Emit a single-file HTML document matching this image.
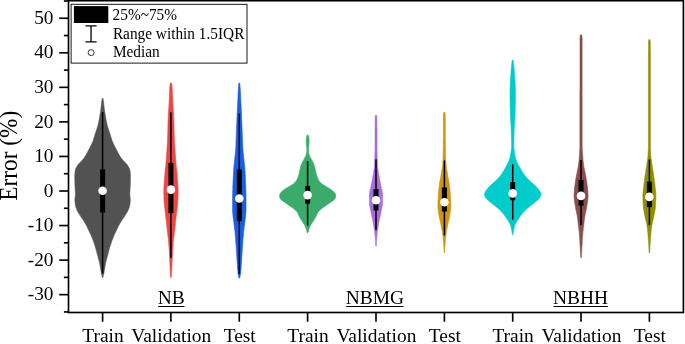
<!DOCTYPE html>
<html><head><meta charset="utf-8"><title>Error violin plot</title>
<style>html,body{margin:0;padding:0;background:#fff}svg{display:block}text{font-family:"Liberation Serif","Times New Roman",serif;fill:#000}</style></head><body>
<svg width="685" height="344" viewBox="0 0 685 344">
<rect width="685" height="344" fill="#fff"/>
<path d="M102.1,98.6 L102.0,99.6 L101.9,100.6 L101.7,101.6 L101.6,102.6 L101.5,103.6 L101.4,104.6 L101.3,105.6 L101.1,106.6 L101.0,107.6 L100.9,108.6 L100.8,109.6 L100.7,110.6 L100.5,111.6 L100.4,112.6 L100.2,113.6 L100.0,114.6 L99.9,115.6 L99.7,116.6 L99.5,117.6 L99.4,118.6 L99.2,119.6 L99.0,120.6 L98.8,121.6 L98.6,122.6 L98.4,123.6 L98.1,124.6 L97.9,125.6 L97.6,126.6 L97.3,127.6 L97.0,128.6 L96.7,129.6 L96.3,130.6 L96.0,131.6 L95.7,132.6 L95.3,133.6 L95.0,134.6 L94.7,135.6 L94.4,136.6 L94.1,137.6 L93.8,138.6 L93.5,139.6 L93.2,140.6 L92.8,141.6 L92.3,142.6 L91.9,143.6 L91.4,144.6 L90.9,145.6 L90.4,146.6 L89.9,147.6 L89.4,148.6 L88.9,149.6 L88.3,150.6 L87.8,151.6 L87.3,152.6 L86.8,153.6 L86.2,154.6 L85.6,155.6 L85.0,156.6 L84.3,157.6 L83.6,158.6 L82.8,159.6 L82.0,160.6 L81.0,161.6 L80.0,162.6 L79.1,163.6 L78.2,164.6 L77.5,165.6 L76.9,166.6 L76.3,167.6 L75.8,168.6 L75.5,169.6 L75.3,170.6 L75.1,171.6 L75.0,172.6 L74.9,173.6 L74.8,174.6 L74.8,175.6 L74.8,176.6 L74.8,177.6 L74.8,178.6 L74.8,179.6 L74.8,180.6 L74.8,181.6 L74.9,182.6 L74.9,183.6 L74.9,184.6 L75.0,185.6 L75.0,186.6 L75.1,187.6 L75.1,188.6 L75.2,189.6 L75.2,190.6 L75.3,191.6 L75.4,192.6 L75.4,193.6 L75.4,194.6 L75.3,195.6 L75.2,196.6 L75.1,197.6 L75.0,198.6 L74.9,199.6 L74.9,200.6 L75.0,201.6 L75.1,202.6 L75.2,203.6 L75.3,204.6 L75.5,205.6 L75.7,206.6 L76.0,207.6 L76.4,208.6 L76.8,209.6 L77.2,210.6 L77.7,211.6 L78.3,212.6 L78.9,213.6 L79.6,214.6 L80.2,215.6 L80.8,216.6 L81.5,217.6 L82.2,218.6 L82.9,219.6 L83.5,220.6 L84.1,221.6 L84.8,222.6 L85.3,223.6 L85.9,224.6 L86.5,225.6 L87.0,226.6 L87.4,227.6 L87.9,228.6 L88.4,229.6 L88.8,230.6 L89.3,231.6 L89.8,232.6 L90.3,233.6 L90.8,234.6 L91.2,235.6 L91.6,236.6 L92.0,237.6 L92.4,238.6 L92.8,239.6 L93.2,240.6 L93.6,241.6 L93.9,242.6 L94.2,243.6 L94.6,244.6 L94.9,245.6 L95.2,246.6 L95.5,247.6 L95.8,248.6 L96.1,249.6 L96.4,250.6 L96.6,251.6 L96.9,252.6 L97.1,253.6 L97.4,254.6 L97.6,255.6 L97.9,256.6 L98.2,257.6 L98.4,258.6 L98.7,259.6 L99.0,260.6 L99.2,261.6 L99.5,262.6 L99.7,263.6 L99.9,264.6 L100.1,265.6 L100.2,266.6 L100.4,267.6 L100.5,268.6 L100.7,269.6 L100.9,270.6 L101.1,271.6 L101.2,272.6 L101.4,273.6 L101.7,274.6 L101.9,275.6 L102.1,276.6 L102.3,277.5 L102.9,277.5 L103.1,276.6 L103.3,275.6 L103.5,274.6 L103.8,273.6 L104.0,272.6 L104.1,271.6 L104.3,270.6 L104.5,269.6 L104.7,268.6 L104.8,267.6 L105.0,266.6 L105.1,265.6 L105.3,264.6 L105.5,263.6 L105.7,262.6 L106.0,261.6 L106.2,260.6 L106.5,259.6 L106.8,258.6 L107.0,257.6 L107.3,256.6 L107.6,255.6 L107.8,254.6 L108.1,253.6 L108.3,252.6 L108.6,251.6 L108.8,250.6 L109.1,249.6 L109.4,248.6 L109.7,247.6 L110.0,246.6 L110.3,245.6 L110.6,244.6 L111.0,243.6 L111.3,242.6 L111.6,241.6 L112.0,240.6 L112.4,239.6 L112.8,238.6 L113.2,237.6 L113.6,236.6 L114.0,235.6 L114.4,234.6 L114.9,233.6 L115.4,232.6 L115.9,231.6 L116.4,230.6 L116.8,229.6 L117.3,228.6 L117.8,227.6 L118.2,226.6 L118.7,225.6 L119.3,224.6 L119.9,223.6 L120.4,222.6 L121.1,221.6 L121.7,220.6 L122.3,219.6 L123.0,218.6 L123.7,217.6 L124.4,216.6 L125.0,215.6 L125.6,214.6 L126.3,213.6 L126.9,212.6 L127.5,211.6 L128.0,210.6 L128.4,209.6 L128.8,208.6 L129.2,207.6 L129.5,206.6 L129.7,205.6 L129.9,204.6 L130.0,203.6 L130.1,202.6 L130.2,201.6 L130.3,200.6 L130.3,199.6 L130.2,198.6 L130.1,197.6 L130.0,196.6 L129.9,195.6 L129.8,194.6 L129.8,193.6 L129.8,192.6 L129.9,191.6 L130.0,190.6 L130.0,189.6 L130.1,188.6 L130.1,187.6 L130.2,186.6 L130.2,185.6 L130.3,184.6 L130.3,183.6 L130.3,182.6 L130.4,181.6 L130.4,180.6 L130.4,179.6 L130.4,178.6 L130.4,177.6 L130.4,176.6 L130.4,175.6 L130.4,174.6 L130.3,173.6 L130.2,172.6 L130.1,171.6 L129.9,170.6 L129.7,169.6 L129.4,168.6 L128.9,167.6 L128.3,166.6 L127.7,165.6 L127.0,164.6 L126.1,163.6 L125.2,162.6 L124.2,161.6 L123.2,160.6 L122.4,159.6 L121.6,158.6 L120.9,157.6 L120.2,156.6 L119.6,155.6 L119.0,154.6 L118.4,153.6 L117.9,152.6 L117.4,151.6 L116.9,150.6 L116.3,149.6 L115.8,148.6 L115.3,147.6 L114.8,146.6 L114.3,145.6 L113.8,144.6 L113.3,143.6 L112.9,142.6 L112.4,141.6 L112.0,140.6 L111.7,139.6 L111.4,138.6 L111.1,137.6 L110.8,136.6 L110.5,135.6 L110.2,134.6 L109.9,133.6 L109.5,132.6 L109.2,131.6 L108.9,130.6 L108.5,129.6 L108.2,128.6 L107.9,127.6 L107.6,126.6 L107.3,125.6 L107.1,124.6 L106.8,123.6 L106.6,122.6 L106.4,121.6 L106.2,120.6 L106.0,119.6 L105.8,118.6 L105.7,117.6 L105.5,116.6 L105.3,115.6 L105.2,114.6 L105.0,113.6 L104.8,112.6 L104.7,111.6 L104.5,110.6 L104.4,109.6 L104.3,108.6 L104.2,107.6 L104.1,106.6 L103.9,105.6 L103.8,104.6 L103.7,103.6 L103.6,102.6 L103.5,101.6 L103.3,100.6 L103.2,99.6 L103.1,98.6Z" fill="#525252" stroke="#525252" stroke-width="0.6" stroke-linejoin="round"/>
<line x1="102.6" x2="102.6" y1="112" y2="273.5" stroke="#000" stroke-width="1.5"/>
<rect x="100.1" y="169.3" width="5.0" height="43.2" fill="#000"/>
<circle cx="102.6" cy="190.7" r="4.3" fill="#fff"/>
<path d="M170.4,82.9 L170.2,83.9 L170.0,84.9 L169.9,85.9 L169.8,86.9 L169.7,87.9 L169.7,88.9 L169.7,89.9 L169.6,90.9 L169.6,91.9 L169.5,92.9 L169.5,93.9 L169.5,94.9 L169.4,95.9 L169.4,96.9 L169.3,97.9 L169.3,98.9 L169.2,99.9 L169.2,100.9 L169.1,101.9 L169.1,102.9 L169.0,103.9 L169.0,104.9 L168.9,105.9 L168.9,106.9 L168.8,107.9 L168.7,108.9 L168.7,109.9 L168.6,110.9 L168.5,111.9 L168.5,112.9 L168.4,113.9 L168.3,114.9 L168.3,115.9 L168.2,116.9 L168.2,117.9 L168.1,118.9 L168.1,119.9 L168.0,120.9 L168.0,121.9 L168.0,122.9 L168.0,123.9 L167.9,124.9 L167.9,125.9 L167.9,126.9 L167.9,127.9 L167.9,128.9 L167.9,129.9 L167.8,130.9 L167.8,131.9 L167.8,132.9 L167.8,133.9 L167.7,134.9 L167.7,135.9 L167.6,136.9 L167.6,137.9 L167.6,138.9 L167.5,139.9 L167.5,140.9 L167.4,141.9 L167.4,142.9 L167.3,143.9 L167.3,144.9 L167.2,145.9 L167.1,146.9 L167.1,147.9 L167.0,148.9 L166.9,149.9 L166.9,150.9 L166.8,151.9 L166.7,152.9 L166.7,153.9 L166.6,154.9 L166.5,155.9 L166.4,156.9 L166.4,157.9 L166.3,158.9 L166.2,159.9 L166.1,160.9 L166.0,161.9 L165.9,162.9 L165.9,163.9 L165.8,164.9 L165.7,165.9 L165.6,166.9 L165.5,167.9 L165.3,168.9 L165.2,169.9 L165.1,170.9 L165.0,171.9 L165.0,172.9 L164.9,173.9 L164.8,174.9 L164.7,175.9 L164.7,176.9 L164.6,177.9 L164.5,178.9 L164.4,179.9 L164.4,180.9 L164.3,181.9 L164.2,182.9 L164.1,183.9 L164.0,184.9 L164.0,185.9 L163.9,186.9 L163.8,187.9 L163.8,188.9 L163.8,189.9 L163.8,190.9 L163.8,191.9 L163.8,192.9 L163.8,193.9 L163.8,194.9 L163.9,195.9 L163.9,196.9 L163.9,197.9 L164.0,198.9 L164.0,199.9 L164.1,200.9 L164.1,201.9 L164.2,202.9 L164.3,203.9 L164.4,204.9 L164.5,205.9 L164.6,206.9 L164.8,207.9 L164.9,208.9 L165.0,209.9 L165.1,210.9 L165.2,211.9 L165.3,212.9 L165.4,213.9 L165.6,214.9 L165.7,215.9 L165.8,216.9 L165.9,217.9 L166.0,218.9 L166.2,219.9 L166.3,220.9 L166.4,221.9 L166.5,222.9 L166.6,223.9 L166.7,224.9 L166.8,225.9 L166.9,226.9 L167.0,227.9 L167.1,228.9 L167.2,229.9 L167.3,230.9 L167.5,231.9 L167.6,232.9 L167.7,233.9 L167.8,234.9 L167.9,235.9 L168.1,236.9 L168.2,237.9 L168.3,238.9 L168.4,239.9 L168.5,240.9 L168.6,241.9 L168.7,242.9 L168.8,243.9 L168.8,244.9 L168.9,245.9 L169.0,246.9 L169.1,247.9 L169.1,248.9 L169.2,249.9 L169.3,250.9 L169.3,251.9 L169.4,252.9 L169.4,253.9 L169.5,254.9 L169.5,255.9 L169.6,256.9 L169.6,257.9 L169.7,258.9 L169.7,259.9 L169.8,260.9 L169.8,261.9 L169.9,262.9 L169.9,263.9 L169.9,264.9 L170.0,265.9 L170.0,266.9 L170.1,267.9 L170.1,268.9 L170.1,269.9 L170.2,270.9 L170.3,271.9 L170.3,272.9 L170.4,273.9 L170.5,274.9 L170.5,275.9 L170.6,276.9 L170.6,277.6 L171.2,277.6 L171.3,276.9 L171.4,275.9 L171.4,274.9 L171.5,273.9 L171.6,272.9 L171.6,271.9 L171.7,270.9 L171.8,269.9 L171.8,268.9 L171.8,267.9 L171.9,266.9 L171.9,265.9 L172.0,264.9 L172.0,263.9 L172.0,262.9 L172.1,261.9 L172.1,260.9 L172.2,259.9 L172.2,258.9 L172.3,257.9 L172.3,256.9 L172.4,255.9 L172.4,254.9 L172.5,253.9 L172.5,252.9 L172.6,251.9 L172.6,250.9 L172.7,249.9 L172.8,248.9 L172.8,247.9 L172.9,246.9 L173.0,245.9 L173.1,244.9 L173.1,243.9 L173.2,242.9 L173.3,241.9 L173.4,240.9 L173.5,239.9 L173.6,238.9 L173.7,237.9 L173.8,236.9 L174.0,235.9 L174.1,234.9 L174.2,233.9 L174.3,232.9 L174.4,231.9 L174.5,230.9 L174.7,229.9 L174.8,228.9 L174.9,227.9 L175.0,226.9 L175.1,225.9 L175.2,224.9 L175.3,223.9 L175.4,222.9 L175.5,221.9 L175.6,220.9 L175.7,219.9 L175.9,218.9 L176.0,217.9 L176.1,216.9 L176.2,215.9 L176.3,214.9 L176.5,213.9 L176.6,212.9 L176.7,211.9 L176.8,210.9 L176.9,209.9 L177.0,208.9 L177.1,207.9 L177.3,206.9 L177.4,205.9 L177.5,204.9 L177.6,203.9 L177.7,202.9 L177.8,201.9 L177.8,200.9 L177.9,199.9 L177.9,198.9 L178.0,197.9 L178.0,196.9 L178.0,195.9 L178.1,194.9 L178.1,193.9 L178.1,192.9 L178.1,191.9 L178.1,190.9 L178.1,189.9 L178.1,188.9 L178.1,187.9 L178.0,186.9 L177.9,185.9 L177.9,184.9 L177.8,183.9 L177.7,182.9 L177.6,181.9 L177.5,180.9 L177.5,179.9 L177.4,178.9 L177.3,177.9 L177.2,176.9 L177.2,175.9 L177.1,174.9 L177.0,173.9 L176.9,172.9 L176.9,171.9 L176.8,170.9 L176.7,169.9 L176.6,168.9 L176.4,167.9 L176.3,166.9 L176.2,165.9 L176.1,164.9 L176.0,163.9 L175.9,162.9 L175.9,161.9 L175.8,160.9 L175.7,159.9 L175.6,158.9 L175.5,157.9 L175.5,156.9 L175.4,155.9 L175.3,154.9 L175.2,153.9 L175.2,152.9 L175.1,151.9 L175.0,150.9 L175.0,149.9 L174.9,148.9 L174.8,147.9 L174.8,146.9 L174.7,145.9 L174.6,144.9 L174.6,143.9 L174.5,142.9 L174.5,141.9 L174.4,140.9 L174.4,139.9 L174.3,138.9 L174.3,137.9 L174.3,136.9 L174.2,135.9 L174.2,134.9 L174.1,133.9 L174.1,132.9 L174.1,131.9 L174.1,130.9 L174.0,129.9 L174.0,128.9 L174.0,127.9 L174.0,126.9 L174.0,125.9 L174.0,124.9 L173.9,123.9 L173.9,122.9 L173.9,121.9 L173.9,120.9 L173.8,119.9 L173.8,118.9 L173.7,117.9 L173.7,116.9 L173.6,115.9 L173.6,114.9 L173.5,113.9 L173.4,112.9 L173.4,111.9 L173.3,110.9 L173.2,109.9 L173.2,108.9 L173.1,107.9 L173.0,106.9 L173.0,105.9 L172.9,104.9 L172.9,103.9 L172.8,102.9 L172.8,101.9 L172.7,100.9 L172.7,99.9 L172.6,98.9 L172.6,97.9 L172.5,96.9 L172.5,95.9 L172.4,94.9 L172.4,93.9 L172.4,92.9 L172.3,91.9 L172.3,90.9 L172.2,89.9 L172.2,88.9 L172.2,87.9 L172.1,86.9 L172.0,85.9 L171.9,84.9 L171.7,83.9 L171.4,82.9Z" fill="#ee4444" stroke="#ee4444" stroke-width="0.6" stroke-linejoin="round"/>
<line x1="170.9" x2="170.9" y1="112.2" y2="258" stroke="#000" stroke-width="1.5"/>
<rect x="168.4" y="162.9" width="5.0" height="50.3" fill="#000"/>
<circle cx="170.9" cy="189.6" r="4.3" fill="#fff"/>
<path d="M238.9,83.0 L238.8,84.0 L238.7,85.0 L238.6,86.0 L238.5,87.0 L238.5,88.0 L238.4,89.0 L238.3,90.0 L238.3,91.0 L238.2,92.0 L238.1,93.0 L238.1,94.0 L238.0,95.0 L238.0,96.0 L238.0,97.0 L237.9,98.0 L237.9,99.0 L237.8,100.0 L237.8,101.0 L237.7,102.0 L237.7,103.0 L237.6,104.0 L237.6,105.0 L237.5,106.0 L237.5,107.0 L237.4,108.0 L237.4,109.0 L237.3,110.0 L237.3,111.0 L237.2,112.0 L237.2,113.0 L237.1,114.0 L237.1,115.0 L237.1,116.0 L237.0,117.0 L237.0,118.0 L236.9,119.0 L236.9,120.0 L236.8,121.0 L236.8,122.0 L236.8,123.0 L236.7,124.0 L236.7,125.0 L236.6,126.0 L236.6,127.0 L236.6,128.0 L236.5,129.0 L236.5,130.0 L236.4,131.0 L236.4,132.0 L236.4,133.0 L236.3,134.0 L236.3,135.0 L236.3,136.0 L236.2,137.0 L236.2,138.0 L236.1,139.0 L236.1,140.0 L236.0,141.0 L236.0,142.0 L236.0,143.0 L235.9,144.0 L235.9,145.0 L235.9,146.0 L235.8,147.0 L235.8,148.0 L235.7,149.0 L235.6,150.0 L235.6,151.0 L235.5,152.0 L235.4,153.0 L235.3,154.0 L235.1,155.0 L235.0,156.0 L234.9,157.0 L234.8,158.0 L234.7,159.0 L234.6,160.0 L234.5,161.0 L234.4,162.0 L234.3,163.0 L234.2,164.0 L234.1,165.0 L234.0,166.0 L233.9,167.0 L233.8,168.0 L233.7,169.0 L233.7,170.0 L233.6,171.0 L233.5,172.0 L233.5,173.0 L233.4,174.0 L233.4,175.0 L233.3,176.0 L233.3,177.0 L233.2,178.0 L233.2,179.0 L233.1,180.0 L233.1,181.0 L233.0,182.0 L233.0,183.0 L233.0,184.0 L232.9,185.0 L232.9,186.0 L232.8,187.0 L232.8,188.0 L232.8,189.0 L232.8,190.0 L232.7,191.0 L232.7,192.0 L232.7,193.0 L232.7,194.0 L232.6,195.0 L232.6,196.0 L232.6,197.0 L232.6,198.0 L232.6,199.0 L232.6,200.0 L232.6,201.0 L232.6,202.0 L232.6,203.0 L232.6,204.0 L232.6,205.0 L232.6,206.0 L232.6,207.0 L232.6,208.0 L232.6,209.0 L232.6,210.0 L232.6,211.0 L232.7,212.0 L232.8,213.0 L232.8,214.0 L232.9,215.0 L233.0,216.0 L233.1,217.0 L233.2,218.0 L233.4,219.0 L233.5,220.0 L233.6,221.0 L233.8,222.0 L233.9,223.0 L234.0,224.0 L234.1,225.0 L234.3,226.0 L234.4,227.0 L234.5,228.0 L234.6,229.0 L234.8,230.0 L234.9,231.0 L235.0,232.0 L235.1,233.0 L235.2,234.0 L235.2,235.0 L235.3,236.0 L235.4,237.0 L235.5,238.0 L235.6,239.0 L235.7,240.0 L235.7,241.0 L235.8,242.0 L235.9,243.0 L236.0,244.0 L236.0,245.0 L236.1,246.0 L236.2,247.0 L236.2,248.0 L236.3,249.0 L236.4,250.0 L236.4,251.0 L236.5,252.0 L236.6,253.0 L236.6,254.0 L236.7,255.0 L236.8,256.0 L236.8,257.0 L236.9,258.0 L236.9,259.0 L237.0,260.0 L237.1,261.0 L237.1,262.0 L237.2,263.0 L237.3,264.0 L237.3,265.0 L237.4,266.0 L237.5,267.0 L237.5,268.0 L237.6,269.0 L237.7,270.0 L237.8,271.0 L237.9,272.0 L238.0,273.0 L238.1,274.0 L238.3,275.0 L238.5,276.0 L238.7,277.0 L238.9,278.0 L238.9,278.1 L239.7,278.1 L239.7,278.0 L239.9,277.0 L240.1,276.0 L240.3,275.0 L240.5,274.0 L240.6,273.0 L240.7,272.0 L240.8,271.0 L240.9,270.0 L241.0,269.0 L241.1,268.0 L241.1,267.0 L241.2,266.0 L241.3,265.0 L241.3,264.0 L241.4,263.0 L241.5,262.0 L241.5,261.0 L241.6,260.0 L241.7,259.0 L241.7,258.0 L241.8,257.0 L241.8,256.0 L241.9,255.0 L242.0,254.0 L242.0,253.0 L242.1,252.0 L242.2,251.0 L242.2,250.0 L242.3,249.0 L242.4,248.0 L242.4,247.0 L242.5,246.0 L242.6,245.0 L242.6,244.0 L242.7,243.0 L242.8,242.0 L242.9,241.0 L242.9,240.0 L243.0,239.0 L243.1,238.0 L243.2,237.0 L243.3,236.0 L243.4,235.0 L243.4,234.0 L243.5,233.0 L243.6,232.0 L243.7,231.0 L243.8,230.0 L244.0,229.0 L244.1,228.0 L244.2,227.0 L244.3,226.0 L244.5,225.0 L244.6,224.0 L244.7,223.0 L244.8,222.0 L245.0,221.0 L245.1,220.0 L245.2,219.0 L245.4,218.0 L245.5,217.0 L245.6,216.0 L245.7,215.0 L245.8,214.0 L245.8,213.0 L245.9,212.0 L246.0,211.0 L246.0,210.0 L246.0,209.0 L246.0,208.0 L246.0,207.0 L246.0,206.0 L246.0,205.0 L246.0,204.0 L246.0,203.0 L246.0,202.0 L246.0,201.0 L246.0,200.0 L246.0,199.0 L246.0,198.0 L246.0,197.0 L246.0,196.0 L246.0,195.0 L245.9,194.0 L245.9,193.0 L245.9,192.0 L245.9,191.0 L245.8,190.0 L245.8,189.0 L245.8,188.0 L245.8,187.0 L245.7,186.0 L245.7,185.0 L245.6,184.0 L245.6,183.0 L245.6,182.0 L245.5,181.0 L245.5,180.0 L245.4,179.0 L245.4,178.0 L245.3,177.0 L245.3,176.0 L245.2,175.0 L245.2,174.0 L245.1,173.0 L245.1,172.0 L245.0,171.0 L244.9,170.0 L244.9,169.0 L244.8,168.0 L244.7,167.0 L244.6,166.0 L244.5,165.0 L244.4,164.0 L244.3,163.0 L244.2,162.0 L244.1,161.0 L244.0,160.0 L243.9,159.0 L243.8,158.0 L243.7,157.0 L243.6,156.0 L243.5,155.0 L243.3,154.0 L243.2,153.0 L243.1,152.0 L243.0,151.0 L243.0,150.0 L242.9,149.0 L242.8,148.0 L242.8,147.0 L242.7,146.0 L242.7,145.0 L242.7,144.0 L242.6,143.0 L242.6,142.0 L242.5,141.0 L242.5,140.0 L242.5,139.0 L242.4,138.0 L242.4,137.0 L242.3,136.0 L242.3,135.0 L242.3,134.0 L242.2,133.0 L242.2,132.0 L242.2,131.0 L242.1,130.0 L242.1,129.0 L242.0,128.0 L242.0,127.0 L242.0,126.0 L241.9,125.0 L241.9,124.0 L241.8,123.0 L241.8,122.0 L241.8,121.0 L241.7,120.0 L241.7,119.0 L241.6,118.0 L241.6,117.0 L241.5,116.0 L241.5,115.0 L241.5,114.0 L241.4,113.0 L241.4,112.0 L241.3,111.0 L241.3,110.0 L241.2,109.0 L241.2,108.0 L241.1,107.0 L241.1,106.0 L241.0,105.0 L241.0,104.0 L240.9,103.0 L240.9,102.0 L240.8,101.0 L240.8,100.0 L240.7,99.0 L240.7,98.0 L240.6,97.0 L240.6,96.0 L240.6,95.0 L240.5,94.0 L240.5,93.0 L240.4,92.0 L240.3,91.0 L240.3,90.0 L240.2,89.0 L240.1,88.0 L240.1,87.0 L240.0,86.0 L239.9,85.0 L239.8,84.0 L239.7,83.0Z" fill="#1a5fe0" stroke="#1a5fe0" stroke-width="0.6" stroke-linejoin="round"/>
<line x1="239.3" x2="239.3" y1="113.6" y2="274" stroke="#000" stroke-width="1.5"/>
<rect x="236.8" y="169.4" width="5.0" height="51.8" fill="#000"/>
<circle cx="239.3" cy="198.5" r="4.3" fill="#fff"/>
<path d="M307.2,134.9 L306.9,135.9 L306.6,136.9 L306.4,137.9 L306.3,138.9 L306.2,139.9 L306.2,140.9 L306.2,141.9 L306.2,142.9 L306.3,143.9 L306.4,144.9 L306.6,145.9 L306.7,146.9 L306.8,147.9 L306.8,148.9 L306.8,149.9 L306.8,150.9 L306.8,151.9 L306.7,152.9 L306.4,153.9 L306.1,154.9 L305.7,155.9 L305.2,156.9 L304.7,157.9 L304.2,158.9 L303.6,159.9 L303.1,160.9 L302.5,161.9 L302.0,162.9 L301.6,163.9 L301.2,164.9 L300.8,165.9 L300.5,166.9 L300.3,167.9 L300.1,168.9 L299.9,169.9 L299.7,170.9 L299.5,171.9 L299.2,172.9 L299.0,173.9 L298.7,174.9 L298.4,175.9 L298.1,176.9 L297.7,177.9 L297.3,178.9 L296.8,179.9 L296.2,180.9 L295.4,181.9 L294.5,182.9 L293.3,183.9 L291.8,184.9 L290.1,185.9 L288.5,186.9 L286.8,187.9 L285.1,188.9 L283.7,189.9 L282.4,190.9 L281.4,191.9 L280.5,192.9 L279.9,193.9 L279.6,194.9 L279.6,195.9 L279.7,196.9 L279.9,197.9 L280.5,198.9 L281.4,199.9 L282.6,200.9 L284.2,201.9 L285.6,202.9 L287.1,203.9 L288.5,204.9 L290.0,205.9 L291.4,206.9 L292.8,207.9 L294.0,208.9 L295.2,209.9 L296.3,210.9 L297.2,211.9 L297.8,212.9 L298.2,213.9 L298.6,214.9 L299.1,215.9 L299.6,216.9 L300.1,217.9 L300.6,218.9 L301.3,219.9 L302.0,220.9 L302.6,221.9 L303.3,222.9 L303.9,223.9 L304.5,224.9 L305.0,225.9 L305.5,226.9 L305.9,227.9 L306.2,228.9 L306.5,229.9 L306.8,230.9 L307.1,231.9 L307.3,232.8 L307.9,232.8 L308.2,231.9 L308.5,230.9 L308.8,229.9 L309.1,228.9 L309.4,227.9 L309.8,226.9 L310.3,225.9 L310.8,224.9 L311.4,223.9 L312.0,222.9 L312.7,221.9 L313.3,220.9 L314.0,219.9 L314.7,218.9 L315.2,217.9 L315.7,216.9 L316.2,215.9 L316.7,214.9 L317.1,213.9 L317.5,212.9 L318.1,211.9 L319.0,210.9 L320.1,209.9 L321.3,208.9 L322.5,207.9 L323.9,206.9 L325.3,205.9 L326.8,204.9 L328.2,203.9 L329.7,202.9 L331.1,201.9 L332.7,200.9 L333.9,199.9 L334.8,198.9 L335.4,197.9 L335.6,196.9 L335.7,195.9 L335.7,194.9 L335.4,193.9 L334.8,192.9 L333.9,191.9 L332.9,190.9 L331.6,189.9 L330.2,188.9 L328.5,187.9 L326.8,186.9 L325.2,185.9 L323.5,184.9 L322.0,183.9 L320.8,182.9 L319.9,181.9 L319.1,180.9 L318.5,179.9 L318.0,178.9 L317.6,177.9 L317.2,176.9 L316.9,175.9 L316.6,174.9 L316.3,173.9 L316.1,172.9 L315.8,171.9 L315.6,170.9 L315.4,169.9 L315.2,168.9 L315.0,167.9 L314.8,166.9 L314.5,165.9 L314.1,164.9 L313.7,163.9 L313.3,162.9 L312.8,161.9 L312.2,160.9 L311.7,159.9 L311.1,158.9 L310.6,157.9 L310.1,156.9 L309.6,155.9 L309.2,154.9 L308.9,153.9 L308.6,152.9 L308.5,151.9 L308.5,150.9 L308.5,149.9 L308.5,148.9 L308.5,147.9 L308.6,146.9 L308.7,145.9 L308.9,144.9 L309.0,143.9 L309.1,142.9 L309.1,141.9 L309.1,140.9 L309.1,139.9 L309.0,138.9 L308.9,137.9 L308.7,136.9 L308.4,135.9 L308.0,134.9Z" fill="#3aab6a" stroke="#3aab6a" stroke-width="0.6" stroke-linejoin="round"/>
<line x1="307.6" x2="307.6" y1="161.1" y2="225.6" stroke="#000" stroke-width="1.5"/>
<rect x="305.1" y="185.9" width="5.0" height="17.8" fill="#000"/>
<circle cx="307.6" cy="195.1" r="4.3" fill="#fff"/>
<path d="M375.4,115.3 L375.3,116.3 L375.1,117.3 L375.1,118.3 L375.1,119.3 L375.1,120.3 L375.1,121.3 L375.1,122.3 L375.1,123.3 L375.1,124.3 L375.1,125.3 L375.1,126.3 L375.1,127.3 L375.0,128.3 L375.0,129.3 L375.0,130.3 L375.0,131.3 L375.0,132.3 L375.0,133.3 L375.0,134.3 L375.0,135.3 L375.0,136.3 L375.0,137.3 L375.0,138.3 L375.0,139.3 L375.0,140.3 L375.0,141.3 L375.0,142.3 L375.0,143.3 L375.0,144.3 L375.0,145.3 L375.0,146.3 L375.0,147.3 L375.0,148.3 L375.0,149.3 L375.0,150.3 L374.9,151.3 L374.9,152.3 L374.9,153.3 L374.9,154.3 L374.8,155.3 L374.8,156.3 L374.8,157.3 L374.8,158.3 L374.7,159.3 L374.7,160.3 L374.7,161.3 L374.6,162.3 L374.6,163.3 L374.5,164.3 L374.5,165.3 L374.4,166.3 L374.3,167.3 L374.2,168.3 L374.0,169.3 L373.9,170.3 L373.7,171.3 L373.6,172.3 L373.4,173.3 L373.2,174.3 L373.1,175.3 L372.9,176.3 L372.7,177.3 L372.6,178.3 L372.4,179.3 L372.2,180.3 L372.0,181.3 L371.8,182.3 L371.6,183.3 L371.4,184.3 L371.2,185.3 L371.0,186.3 L370.8,187.3 L370.6,188.3 L370.3,189.3 L370.1,190.3 L369.9,191.3 L369.7,192.3 L369.6,193.3 L369.5,194.3 L369.4,195.3 L369.4,196.3 L369.4,197.3 L369.4,198.3 L369.4,199.3 L369.4,200.3 L369.4,201.3 L369.4,202.3 L369.5,203.3 L369.5,204.3 L369.7,205.3 L369.8,206.3 L370.0,207.3 L370.2,208.3 L370.4,209.3 L370.6,210.3 L370.8,211.3 L371.0,212.3 L371.1,213.3 L371.3,214.3 L371.6,215.3 L371.8,216.3 L372.0,217.3 L372.3,218.3 L372.5,219.3 L372.7,220.3 L372.9,221.3 L373.1,222.3 L373.3,223.3 L373.5,224.3 L373.6,225.3 L373.8,226.3 L374.0,227.3 L374.1,228.3 L374.3,229.3 L374.4,230.3 L374.6,231.3 L374.7,232.3 L374.8,233.3 L374.9,234.3 L375.0,235.3 L375.1,236.3 L375.2,237.3 L375.2,238.3 L375.3,239.3 L375.4,240.3 L375.5,241.3 L375.5,242.3 L375.6,243.3 L375.6,244.3 L375.7,245.3 L375.7,246.1 L376.3,246.1 L376.3,245.3 L376.4,244.3 L376.4,243.3 L376.5,242.3 L376.5,241.3 L376.6,240.3 L376.7,239.3 L376.8,238.3 L376.8,237.3 L376.9,236.3 L377.0,235.3 L377.1,234.3 L377.2,233.3 L377.3,232.3 L377.4,231.3 L377.6,230.3 L377.7,229.3 L377.9,228.3 L378.0,227.3 L378.2,226.3 L378.4,225.3 L378.5,224.3 L378.7,223.3 L378.9,222.3 L379.1,221.3 L379.3,220.3 L379.5,219.3 L379.7,218.3 L380.0,217.3 L380.2,216.3 L380.4,215.3 L380.7,214.3 L380.9,213.3 L381.0,212.3 L381.2,211.3 L381.4,210.3 L381.6,209.3 L381.8,208.3 L382.0,207.3 L382.2,206.3 L382.3,205.3 L382.5,204.3 L382.5,203.3 L382.6,202.3 L382.6,201.3 L382.6,200.3 L382.6,199.3 L382.6,198.3 L382.6,197.3 L382.6,196.3 L382.6,195.3 L382.5,194.3 L382.4,193.3 L382.3,192.3 L382.1,191.3 L381.9,190.3 L381.7,189.3 L381.4,188.3 L381.2,187.3 L381.0,186.3 L380.8,185.3 L380.6,184.3 L380.4,183.3 L380.2,182.3 L380.0,181.3 L379.8,180.3 L379.6,179.3 L379.4,178.3 L379.3,177.3 L379.1,176.3 L378.9,175.3 L378.8,174.3 L378.6,173.3 L378.4,172.3 L378.3,171.3 L378.1,170.3 L378.0,169.3 L377.8,168.3 L377.7,167.3 L377.6,166.3 L377.5,165.3 L377.5,164.3 L377.4,163.3 L377.4,162.3 L377.3,161.3 L377.3,160.3 L377.3,159.3 L377.2,158.3 L377.2,157.3 L377.2,156.3 L377.2,155.3 L377.1,154.3 L377.1,153.3 L377.1,152.3 L377.1,151.3 L377.0,150.3 L377.0,149.3 L377.0,148.3 L377.0,147.3 L377.0,146.3 L377.0,145.3 L377.0,144.3 L377.0,143.3 L377.0,142.3 L377.0,141.3 L377.0,140.3 L377.0,139.3 L377.0,138.3 L377.0,137.3 L377.0,136.3 L377.0,135.3 L377.0,134.3 L377.0,133.3 L377.0,132.3 L377.0,131.3 L377.0,130.3 L377.0,129.3 L377.0,128.3 L376.9,127.3 L376.9,126.3 L376.9,125.3 L376.9,124.3 L376.9,123.3 L376.9,122.3 L376.9,121.3 L376.9,120.3 L376.9,119.3 L376.9,118.3 L376.9,117.3 L376.7,116.3 L376.6,115.3Z" fill="#a96edb" stroke="#a96edb" stroke-width="0.6" stroke-linejoin="round"/>
<line x1="376.0" x2="376.0" y1="159.3" y2="230.3" stroke="#000" stroke-width="1.5"/>
<rect x="373.5" y="189.1" width="5.0" height="21.3" fill="#000"/>
<circle cx="376.0" cy="200.2" r="4.3" fill="#fff"/>
<path d="M443.8,112.3 L443.6,113.3 L443.5,114.3 L443.4,115.3 L443.4,116.3 L443.4,117.3 L443.4,118.3 L443.4,119.3 L443.4,120.3 L443.4,121.3 L443.4,122.3 L443.4,123.3 L443.4,124.3 L443.4,125.3 L443.4,126.3 L443.4,127.3 L443.4,128.3 L443.4,129.3 L443.4,130.3 L443.4,131.3 L443.4,132.3 L443.4,133.3 L443.4,134.3 L443.4,135.3 L443.4,136.3 L443.4,137.3 L443.4,138.3 L443.4,139.3 L443.3,140.3 L443.3,141.3 L443.3,142.3 L443.3,143.3 L443.3,144.3 L443.3,145.3 L443.3,146.3 L443.3,147.3 L443.3,148.3 L443.2,149.3 L443.2,150.3 L443.2,151.3 L443.2,152.3 L443.2,153.3 L443.1,154.3 L443.1,155.3 L443.1,156.3 L443.1,157.3 L443.0,158.3 L443.0,159.3 L442.9,160.3 L442.9,161.3 L442.8,162.3 L442.7,163.3 L442.6,164.3 L442.5,165.3 L442.4,166.3 L442.3,167.3 L442.1,168.3 L442.0,169.3 L441.8,170.3 L441.6,171.3 L441.4,172.3 L441.3,173.3 L441.1,174.3 L440.9,175.3 L440.8,176.3 L440.6,177.3 L440.4,178.3 L440.2,179.3 L440.1,180.3 L439.9,181.3 L439.7,182.3 L439.5,183.3 L439.4,184.3 L439.3,185.3 L439.1,186.3 L439.0,187.3 L438.9,188.3 L438.8,189.3 L438.7,190.3 L438.6,191.3 L438.5,192.3 L438.4,193.3 L438.3,194.3 L438.3,195.3 L438.2,196.3 L438.2,197.3 L438.1,198.3 L438.1,199.3 L438.0,200.3 L438.0,201.3 L437.9,202.3 L437.9,203.3 L437.9,204.3 L437.9,205.3 L437.9,206.3 L437.9,207.3 L438.0,208.3 L438.0,209.3 L438.2,210.3 L438.3,211.3 L438.4,212.3 L438.6,213.3 L438.8,214.3 L438.9,215.3 L439.1,216.3 L439.3,217.3 L439.4,218.3 L439.7,219.3 L439.9,220.3 L440.1,221.3 L440.4,222.3 L440.6,223.3 L440.8,224.3 L441.0,225.3 L441.2,226.3 L441.4,227.3 L441.6,228.3 L441.8,229.3 L442.0,230.3 L442.2,231.3 L442.4,232.3 L442.5,233.3 L442.6,234.3 L442.7,235.3 L442.9,236.3 L443.0,237.3 L443.1,238.3 L443.2,239.3 L443.3,240.3 L443.4,241.3 L443.5,242.3 L443.6,243.3 L443.6,244.3 L443.7,245.3 L443.8,246.3 L443.9,247.3 L443.9,248.3 L444.0,249.3 L444.0,250.3 L444.0,251.3 L444.0,252.3 L444.1,252.4 L444.7,252.4 L444.7,252.3 L444.7,251.3 L444.7,250.3 L444.7,249.3 L444.8,248.3 L444.8,247.3 L444.9,246.3 L445.0,245.3 L445.1,244.3 L445.1,243.3 L445.2,242.3 L445.3,241.3 L445.4,240.3 L445.5,239.3 L445.6,238.3 L445.7,237.3 L445.8,236.3 L446.0,235.3 L446.1,234.3 L446.2,233.3 L446.3,232.3 L446.5,231.3 L446.7,230.3 L446.9,229.3 L447.1,228.3 L447.3,227.3 L447.5,226.3 L447.7,225.3 L447.9,224.3 L448.1,223.3 L448.3,222.3 L448.6,221.3 L448.8,220.3 L449.0,219.3 L449.3,218.3 L449.4,217.3 L449.6,216.3 L449.8,215.3 L449.9,214.3 L450.1,213.3 L450.3,212.3 L450.4,211.3 L450.5,210.3 L450.7,209.3 L450.7,208.3 L450.8,207.3 L450.8,206.3 L450.8,205.3 L450.8,204.3 L450.8,203.3 L450.8,202.3 L450.7,201.3 L450.7,200.3 L450.6,199.3 L450.6,198.3 L450.5,197.3 L450.5,196.3 L450.4,195.3 L450.4,194.3 L450.3,193.3 L450.2,192.3 L450.1,191.3 L450.0,190.3 L449.9,189.3 L449.8,188.3 L449.7,187.3 L449.6,186.3 L449.4,185.3 L449.3,184.3 L449.2,183.3 L449.0,182.3 L448.8,181.3 L448.6,180.3 L448.5,179.3 L448.3,178.3 L448.1,177.3 L447.9,176.3 L447.8,175.3 L447.6,174.3 L447.4,173.3 L447.3,172.3 L447.1,171.3 L446.9,170.3 L446.7,169.3 L446.6,168.3 L446.4,167.3 L446.3,166.3 L446.2,165.3 L446.1,164.3 L446.0,163.3 L445.9,162.3 L445.8,161.3 L445.8,160.3 L445.7,159.3 L445.7,158.3 L445.6,157.3 L445.6,156.3 L445.6,155.3 L445.6,154.3 L445.5,153.3 L445.5,152.3 L445.5,151.3 L445.5,150.3 L445.5,149.3 L445.4,148.3 L445.4,147.3 L445.4,146.3 L445.4,145.3 L445.4,144.3 L445.4,143.3 L445.4,142.3 L445.4,141.3 L445.4,140.3 L445.3,139.3 L445.3,138.3 L445.3,137.3 L445.3,136.3 L445.3,135.3 L445.3,134.3 L445.3,133.3 L445.3,132.3 L445.3,131.3 L445.3,130.3 L445.3,129.3 L445.3,128.3 L445.3,127.3 L445.3,126.3 L445.3,125.3 L445.3,124.3 L445.3,123.3 L445.3,122.3 L445.3,121.3 L445.3,120.3 L445.3,119.3 L445.3,118.3 L445.3,117.3 L445.3,116.3 L445.3,115.3 L445.2,114.3 L445.1,113.3 L445.0,112.3Z" fill="#cf9410" stroke="#cf9410" stroke-width="0.6" stroke-linejoin="round"/>
<line x1="444.4" x2="444.4" y1="160.5" y2="235.4" stroke="#000" stroke-width="1.5"/>
<rect x="441.9" y="187.5" width="5.0" height="24.1" fill="#000"/>
<circle cx="444.4" cy="202.2" r="4.3" fill="#fff"/>
<path d="M512.3,60.1 L512.1,61.1 L512.0,62.1 L511.9,63.1 L511.7,64.1 L511.6,65.1 L511.5,66.1 L511.4,67.1 L511.3,68.1 L511.2,69.1 L511.2,70.1 L511.1,71.1 L511.0,72.1 L511.0,73.1 L510.9,74.1 L510.8,75.1 L510.8,76.1 L510.7,77.1 L510.6,78.1 L510.5,79.1 L510.5,80.1 L510.4,81.1 L510.3,82.1 L510.3,83.1 L510.2,84.1 L510.2,85.1 L510.1,86.1 L510.1,87.1 L510.0,88.1 L510.0,89.1 L510.0,90.1 L510.0,91.1 L510.0,92.1 L510.0,93.1 L510.0,94.1 L510.0,95.1 L510.0,96.1 L510.0,97.1 L510.0,98.1 L510.0,99.1 L510.0,100.1 L510.0,101.1 L510.1,102.1 L510.1,103.1 L510.1,104.1 L510.1,105.1 L510.1,106.1 L510.2,107.1 L510.2,108.1 L510.2,109.1 L510.2,110.1 L510.3,111.1 L510.3,112.1 L510.3,113.1 L510.4,114.1 L510.4,115.1 L510.4,116.1 L510.5,117.1 L510.5,118.1 L510.6,119.1 L510.7,120.1 L510.7,121.1 L510.8,122.1 L510.9,123.1 L510.9,124.1 L511.0,125.1 L511.0,126.1 L511.1,127.1 L511.1,128.1 L511.2,129.1 L511.2,130.1 L511.2,131.1 L511.3,132.1 L511.3,133.1 L511.4,134.1 L511.4,135.1 L511.4,136.1 L511.4,137.1 L511.5,138.1 L511.5,139.1 L511.5,140.1 L511.5,141.1 L511.6,142.1 L511.6,143.1 L511.6,144.1 L511.6,145.1 L511.6,146.1 L511.6,147.1 L511.5,148.1 L511.4,149.1 L511.3,150.1 L511.1,151.1 L511.0,152.1 L510.8,153.1 L510.7,154.1 L510.5,155.1 L510.3,156.1 L510.1,157.1 L509.8,158.1 L509.6,159.1 L509.3,160.1 L508.9,161.1 L508.4,162.1 L507.9,163.1 L507.5,164.1 L506.9,165.1 L506.4,166.1 L505.9,167.1 L505.3,168.1 L504.8,169.1 L504.2,170.1 L503.6,171.1 L502.9,172.1 L502.3,173.1 L501.6,174.1 L500.9,175.1 L500.2,176.1 L499.3,177.1 L498.4,178.1 L497.5,179.1 L496.5,180.1 L495.5,181.1 L494.4,182.1 L493.2,183.1 L492.0,184.1 L490.9,185.1 L489.8,186.1 L488.8,187.1 L488.0,188.1 L487.2,189.1 L486.5,190.1 L485.8,191.1 L485.2,192.1 L484.7,193.1 L484.4,194.1 L484.5,195.1 L484.8,196.1 L485.2,197.1 L485.9,198.1 L486.8,199.1 L487.8,200.1 L488.9,201.1 L490.1,202.1 L491.4,203.1 L492.6,204.1 L493.9,205.1 L495.2,206.1 L496.4,207.1 L497.6,208.1 L498.8,209.1 L499.8,210.1 L500.9,211.1 L501.8,212.1 L502.7,213.1 L503.5,214.1 L504.3,215.1 L505.0,216.1 L505.7,217.1 L506.4,218.1 L507.0,219.1 L507.7,220.1 L508.4,221.1 L509.0,222.1 L509.5,223.1 L510.0,224.1 L510.5,225.1 L510.8,226.1 L511.1,227.1 L511.3,228.1 L511.5,229.1 L511.7,230.1 L511.9,231.1 L512.0,232.1 L512.2,233.1 L512.3,234.1 L512.4,234.8 L513.0,234.8 L513.1,234.1 L513.2,233.1 L513.4,232.1 L513.5,231.1 L513.7,230.1 L513.9,229.1 L514.1,228.1 L514.3,227.1 L514.6,226.1 L514.9,225.1 L515.4,224.1 L515.9,223.1 L516.4,222.1 L517.0,221.1 L517.7,220.1 L518.4,219.1 L519.0,218.1 L519.7,217.1 L520.4,216.1 L521.1,215.1 L521.9,214.1 L522.7,213.1 L523.6,212.1 L524.5,211.1 L525.6,210.1 L526.6,209.1 L527.8,208.1 L529.0,207.1 L530.2,206.1 L531.5,205.1 L532.8,204.1 L534.0,203.1 L535.3,202.1 L536.5,201.1 L537.6,200.1 L538.6,199.1 L539.5,198.1 L540.2,197.1 L540.6,196.1 L540.9,195.1 L541.0,194.1 L540.7,193.1 L540.2,192.1 L539.6,191.1 L538.9,190.1 L538.2,189.1 L537.4,188.1 L536.6,187.1 L535.6,186.1 L534.5,185.1 L533.4,184.1 L532.2,183.1 L531.0,182.1 L529.9,181.1 L528.9,180.1 L527.9,179.1 L527.0,178.1 L526.1,177.1 L525.2,176.1 L524.5,175.1 L523.8,174.1 L523.1,173.1 L522.5,172.1 L521.8,171.1 L521.2,170.1 L520.6,169.1 L520.1,168.1 L519.5,167.1 L519.0,166.1 L518.5,165.1 L517.9,164.1 L517.4,163.1 L517.0,162.1 L516.5,161.1 L516.1,160.1 L515.8,159.1 L515.6,158.1 L515.3,157.1 L515.1,156.1 L514.9,155.1 L514.7,154.1 L514.6,153.1 L514.4,152.1 L514.3,151.1 L514.1,150.1 L514.0,149.1 L513.9,148.1 L513.8,147.1 L513.8,146.1 L513.8,145.1 L513.8,144.1 L513.8,143.1 L513.8,142.1 L513.9,141.1 L513.9,140.1 L513.9,139.1 L513.9,138.1 L514.0,137.1 L514.0,136.1 L514.0,135.1 L514.0,134.1 L514.1,133.1 L514.1,132.1 L514.2,131.1 L514.2,130.1 L514.2,129.1 L514.3,128.1 L514.3,127.1 L514.4,126.1 L514.4,125.1 L514.5,124.1 L514.5,123.1 L514.6,122.1 L514.7,121.1 L514.7,120.1 L514.8,119.1 L514.9,118.1 L514.9,117.1 L515.0,116.1 L515.0,115.1 L515.0,114.1 L515.1,113.1 L515.1,112.1 L515.1,111.1 L515.2,110.1 L515.2,109.1 L515.2,108.1 L515.2,107.1 L515.3,106.1 L515.3,105.1 L515.3,104.1 L515.3,103.1 L515.3,102.1 L515.4,101.1 L515.4,100.1 L515.4,99.1 L515.4,98.1 L515.4,97.1 L515.4,96.1 L515.4,95.1 L515.4,94.1 L515.4,93.1 L515.4,92.1 L515.4,91.1 L515.4,90.1 L515.4,89.1 L515.4,88.1 L515.3,87.1 L515.3,86.1 L515.2,85.1 L515.2,84.1 L515.1,83.1 L515.1,82.1 L515.0,81.1 L514.9,80.1 L514.9,79.1 L514.8,78.1 L514.7,77.1 L514.6,76.1 L514.6,75.1 L514.5,74.1 L514.4,73.1 L514.4,72.1 L514.3,71.1 L514.2,70.1 L514.2,69.1 L514.1,68.1 L514.0,67.1 L513.9,66.1 L513.8,65.1 L513.7,64.1 L513.5,63.1 L513.4,62.1 L513.3,61.1 L513.1,60.1Z" fill="#00cccc" stroke="#00cccc" stroke-width="0.6" stroke-linejoin="round"/>
<line x1="512.7" x2="512.7" y1="164.1" y2="219.6" stroke="#000" stroke-width="1.5"/>
<rect x="510.2" y="182" width="5.0" height="18.2" fill="#000"/>
<circle cx="512.7" cy="193.4" r="4.3" fill="#fff"/>
<path d="M580.4,34.8 L580.3,35.8 L580.1,36.8 L580.1,37.8 L580.0,38.8 L580.0,39.8 L580.0,40.8 L580.0,41.8 L580.0,42.8 L580.0,43.8 L580.0,44.8 L580.0,45.8 L580.0,46.8 L580.0,47.8 L580.0,48.8 L580.0,49.8 L580.0,50.8 L580.0,51.8 L580.0,52.8 L580.0,53.8 L580.0,54.8 L580.0,55.8 L580.0,56.8 L580.0,57.8 L580.0,58.8 L580.0,59.8 L580.0,60.8 L580.0,61.8 L580.0,62.8 L580.0,63.8 L580.0,64.8 L580.0,65.8 L580.0,66.8 L580.0,67.8 L580.0,68.8 L580.0,69.8 L580.0,70.8 L580.0,71.8 L580.0,72.8 L580.0,73.8 L580.0,74.8 L580.0,75.8 L580.0,76.8 L580.0,77.8 L580.0,78.8 L580.0,79.8 L580.0,80.8 L580.0,81.8 L580.0,82.8 L580.0,83.8 L580.0,84.8 L580.0,85.8 L580.0,86.8 L580.0,87.8 L580.0,88.8 L580.0,89.8 L579.9,90.8 L579.9,91.8 L579.9,92.8 L579.9,93.8 L579.9,94.8 L579.9,95.8 L579.9,96.8 L579.9,97.8 L579.9,98.8 L579.9,99.8 L579.9,100.8 L579.9,101.8 L579.9,102.8 L579.9,103.8 L579.9,104.8 L579.9,105.8 L579.9,106.8 L579.9,107.8 L579.9,108.8 L579.9,109.8 L579.9,110.8 L579.9,111.8 L579.9,112.8 L579.9,113.8 L579.9,114.8 L579.9,115.8 L579.9,116.8 L579.9,117.8 L579.9,118.8 L579.9,119.8 L579.9,120.8 L579.9,121.8 L579.9,122.8 L579.9,123.8 L579.9,124.8 L579.9,125.8 L579.9,126.8 L579.9,127.8 L579.9,128.8 L579.9,129.8 L579.9,130.8 L579.9,131.8 L579.9,132.8 L579.9,133.8 L579.9,134.8 L579.9,135.8 L579.9,136.8 L579.9,137.8 L579.9,138.8 L579.9,139.8 L579.9,140.8 L579.9,141.8 L579.9,142.8 L579.9,143.8 L579.9,144.8 L579.9,145.8 L579.9,146.8 L579.9,147.8 L579.8,148.8 L579.8,149.8 L579.7,150.8 L579.7,151.8 L579.6,152.8 L579.5,153.8 L579.5,154.8 L579.4,155.8 L579.3,156.8 L579.2,157.8 L579.2,158.8 L579.1,159.8 L579.0,160.8 L578.9,161.8 L578.7,162.8 L578.6,163.8 L578.5,164.8 L578.4,165.8 L578.2,166.8 L578.0,167.8 L577.8,168.8 L577.6,169.8 L577.4,170.8 L577.2,171.8 L577.0,172.8 L576.8,173.8 L576.6,174.8 L576.4,175.8 L576.2,176.8 L576.0,177.8 L575.9,178.8 L575.7,179.8 L575.5,180.8 L575.4,181.8 L575.2,182.8 L575.1,183.8 L575.0,184.8 L574.8,185.8 L574.7,186.8 L574.6,187.8 L574.5,188.8 L574.4,189.8 L574.3,190.8 L574.2,191.8 L574.2,192.8 L574.1,193.8 L574.1,194.8 L574.1,195.8 L574.1,196.8 L574.1,197.8 L574.2,198.8 L574.3,199.8 L574.4,200.8 L574.6,201.8 L574.7,202.8 L574.9,203.8 L575.1,204.8 L575.2,205.8 L575.4,206.8 L575.5,207.8 L575.7,208.8 L575.9,209.8 L576.2,210.8 L576.4,211.8 L576.6,212.8 L576.8,213.8 L577.0,214.8 L577.2,215.8 L577.3,216.8 L577.5,217.8 L577.6,218.8 L577.7,219.8 L577.9,220.8 L578.0,221.8 L578.1,222.8 L578.2,223.8 L578.3,224.8 L578.4,225.8 L578.6,226.8 L578.7,227.8 L578.8,228.8 L578.9,229.8 L579.0,230.8 L579.2,231.8 L579.3,232.8 L579.3,233.8 L579.4,234.8 L579.5,235.8 L579.6,236.8 L579.6,237.8 L579.7,238.8 L579.8,239.8 L579.8,240.8 L579.9,241.8 L579.9,242.8 L580.0,243.8 L580.0,244.8 L580.1,245.8 L580.2,246.8 L580.2,247.8 L580.3,248.8 L580.3,249.8 L580.4,250.8 L580.4,251.8 L580.5,252.8 L580.5,253.8 L580.6,254.8 L580.7,255.8 L580.7,256.8 L580.8,257.5 L581.3,257.5 L581.4,256.8 L581.4,255.8 L581.5,254.8 L581.6,253.8 L581.6,252.8 L581.7,251.8 L581.7,250.8 L581.8,249.8 L581.8,248.8 L581.9,247.8 L581.9,246.8 L582.0,245.8 L582.1,244.8 L582.1,243.8 L582.2,242.8 L582.2,241.8 L582.3,240.8 L582.3,239.8 L582.4,238.8 L582.5,237.8 L582.5,236.8 L582.6,235.8 L582.7,234.8 L582.8,233.8 L582.8,232.8 L582.9,231.8 L583.1,230.8 L583.2,229.8 L583.3,228.8 L583.4,227.8 L583.5,226.8 L583.7,225.8 L583.8,224.8 L583.9,223.8 L584.0,222.8 L584.1,221.8 L584.2,220.8 L584.4,219.8 L584.5,218.8 L584.6,217.8 L584.8,216.8 L584.9,215.8 L585.1,214.8 L585.3,213.8 L585.5,212.8 L585.7,211.8 L585.9,210.8 L586.2,209.8 L586.4,208.8 L586.6,207.8 L586.7,206.8 L586.9,205.8 L587.0,204.8 L587.2,203.8 L587.4,202.8 L587.5,201.8 L587.7,200.8 L587.8,199.8 L587.9,198.8 L588.0,197.8 L588.0,196.8 L588.0,195.8 L588.0,194.8 L588.0,193.8 L587.9,192.8 L587.9,191.8 L587.8,190.8 L587.7,189.8 L587.6,188.8 L587.5,187.8 L587.4,186.8 L587.3,185.8 L587.1,184.8 L587.0,183.8 L586.9,182.8 L586.7,181.8 L586.6,180.8 L586.4,179.8 L586.2,178.8 L586.1,177.8 L585.9,176.8 L585.7,175.8 L585.5,174.8 L585.3,173.8 L585.1,172.8 L584.9,171.8 L584.7,170.8 L584.5,169.8 L584.3,168.8 L584.1,167.8 L583.9,166.8 L583.7,165.8 L583.6,164.8 L583.5,163.8 L583.4,162.8 L583.2,161.8 L583.1,160.8 L583.0,159.8 L582.9,158.8 L582.9,157.8 L582.8,156.8 L582.7,155.8 L582.6,154.8 L582.6,153.8 L582.5,152.8 L582.4,151.8 L582.4,150.8 L582.3,149.8 L582.3,148.8 L582.2,147.8 L582.2,146.8 L582.2,145.8 L582.1,144.8 L582.1,143.8 L582.1,142.8 L582.1,141.8 L582.1,140.8 L582.1,139.8 L582.1,138.8 L582.1,137.8 L582.1,136.8 L582.1,135.8 L582.1,134.8 L582.1,133.8 L582.1,132.8 L582.1,131.8 L582.1,130.8 L582.1,129.8 L582.1,128.8 L582.1,127.8 L582.1,126.8 L582.1,125.8 L582.1,124.8 L582.1,123.8 L582.1,122.8 L582.1,121.8 L582.1,120.8 L582.1,119.8 L582.1,118.8 L582.1,117.8 L582.1,116.8 L582.1,115.8 L582.1,114.8 L582.1,113.8 L582.1,112.8 L582.1,111.8 L582.1,110.8 L582.1,109.8 L582.1,108.8 L582.1,107.8 L582.1,106.8 L582.1,105.8 L582.1,104.8 L582.1,103.8 L582.1,102.8 L582.1,101.8 L582.1,100.8 L582.1,99.8 L582.1,98.8 L582.1,97.8 L582.1,96.8 L582.1,95.8 L582.1,94.8 L582.1,93.8 L582.1,92.8 L582.1,91.8 L582.1,90.8 L582.1,89.8 L582.1,88.8 L582.1,87.8 L582.1,86.8 L582.1,85.8 L582.1,84.8 L582.1,83.8 L582.1,82.8 L582.1,81.8 L582.1,80.8 L582.1,79.8 L582.1,78.8 L582.1,77.8 L582.1,76.8 L582.1,75.8 L582.1,74.8 L582.1,73.8 L582.1,72.8 L582.1,71.8 L582.1,70.8 L582.1,69.8 L582.1,68.8 L582.1,67.8 L582.1,66.8 L582.1,65.8 L582.1,64.8 L582.1,63.8 L582.1,62.8 L582.1,61.8 L582.1,60.8 L582.1,59.8 L582.1,58.8 L582.1,57.8 L582.1,56.8 L582.1,55.8 L582.1,54.8 L582.1,53.8 L582.1,52.8 L582.1,51.8 L582.1,50.8 L582.1,49.8 L582.1,48.8 L582.1,47.8 L582.1,46.8 L582.1,45.8 L582.1,44.8 L582.1,43.8 L582.1,42.8 L582.1,41.8 L582.1,40.8 L582.1,39.8 L582.1,38.8 L582.0,37.8 L582.0,36.8 L581.8,35.8 L581.6,34.8Z" fill="#864e4e" stroke="#864e4e" stroke-width="0.6" stroke-linejoin="round"/>
<line x1="581.0" x2="581.0" y1="160" y2="225.2" stroke="#000" stroke-width="1.5"/>
<rect x="578.5" y="180" width="5.0" height="25.7" fill="#000"/>
<circle cx="581.0" cy="195.9" r="4.3" fill="#fff"/>
<path d="M648.8,39.7 L648.7,40.7 L648.6,41.7 L648.5,42.7 L648.5,43.7 L648.5,44.7 L648.5,45.7 L648.5,46.7 L648.5,47.7 L648.5,48.7 L648.5,49.7 L648.5,50.7 L648.5,51.7 L648.5,52.7 L648.5,53.7 L648.4,54.7 L648.4,55.7 L648.4,56.7 L648.4,57.7 L648.4,58.7 L648.4,59.7 L648.4,60.7 L648.4,61.7 L648.4,62.7 L648.4,63.7 L648.4,64.7 L648.4,65.7 L648.4,66.7 L648.4,67.7 L648.4,68.7 L648.4,69.7 L648.4,70.7 L648.4,71.7 L648.4,72.7 L648.4,73.7 L648.4,74.7 L648.4,75.7 L648.4,76.7 L648.4,77.7 L648.4,78.7 L648.4,79.7 L648.4,80.7 L648.4,81.7 L648.4,82.7 L648.4,83.7 L648.4,84.7 L648.4,85.7 L648.4,86.7 L648.4,87.7 L648.4,88.7 L648.4,89.7 L648.4,90.7 L648.4,91.7 L648.4,92.7 L648.4,93.7 L648.4,94.7 L648.4,95.7 L648.4,96.7 L648.4,97.7 L648.4,98.7 L648.4,99.7 L648.4,100.7 L648.4,101.7 L648.4,102.7 L648.4,103.7 L648.4,104.7 L648.4,105.7 L648.4,106.7 L648.4,107.7 L648.4,108.7 L648.4,109.7 L648.4,110.7 L648.4,111.7 L648.4,112.7 L648.4,113.7 L648.4,114.7 L648.4,115.7 L648.4,116.7 L648.4,117.7 L648.4,118.7 L648.4,119.7 L648.4,120.7 L648.4,121.7 L648.4,122.7 L648.4,123.7 L648.4,124.7 L648.4,125.7 L648.4,126.7 L648.4,127.7 L648.4,128.7 L648.4,129.7 L648.4,130.7 L648.4,131.7 L648.4,132.7 L648.4,133.7 L648.4,134.7 L648.4,135.7 L648.4,136.7 L648.4,137.7 L648.4,138.7 L648.4,139.7 L648.4,140.7 L648.4,141.7 L648.4,142.7 L648.4,143.7 L648.4,144.7 L648.4,145.7 L648.4,146.7 L648.4,147.7 L648.3,148.7 L648.3,149.7 L648.2,150.7 L648.2,151.7 L648.1,152.7 L648.1,153.7 L648.0,154.7 L648.0,155.7 L647.9,156.7 L647.8,157.7 L647.6,158.7 L647.5,159.7 L647.4,160.7 L647.2,161.7 L647.1,162.7 L646.9,163.7 L646.8,164.7 L646.6,165.7 L646.5,166.7 L646.3,167.7 L646.2,168.7 L646.0,169.7 L645.8,170.7 L645.7,171.7 L645.5,172.7 L645.4,173.7 L645.2,174.7 L645.1,175.7 L644.9,176.7 L644.8,177.7 L644.6,178.7 L644.5,179.7 L644.4,180.7 L644.3,181.7 L644.1,182.7 L644.0,183.7 L643.9,184.7 L643.8,185.7 L643.7,186.7 L643.6,187.7 L643.5,188.7 L643.3,189.7 L643.2,190.7 L643.1,191.7 L643.0,192.7 L643.0,193.7 L642.9,194.7 L642.9,195.7 L642.9,196.7 L642.9,197.7 L642.9,198.7 L643.0,199.7 L643.0,200.7 L643.1,201.7 L643.1,202.7 L643.2,203.7 L643.2,204.7 L643.3,205.7 L643.3,206.7 L643.4,207.7 L643.6,208.7 L643.7,209.7 L643.9,210.7 L644.0,211.7 L644.2,212.7 L644.4,213.7 L644.6,214.7 L644.8,215.7 L645.0,216.7 L645.2,217.7 L645.4,218.7 L645.7,219.7 L646.0,220.7 L646.2,221.7 L646.5,222.7 L646.6,223.7 L646.8,224.7 L647.0,225.7 L647.1,226.7 L647.2,227.7 L647.4,228.7 L647.5,229.7 L647.6,230.7 L647.7,231.7 L647.8,232.7 L647.9,233.7 L648.0,234.7 L648.1,235.7 L648.1,236.7 L648.2,237.7 L648.3,238.7 L648.4,239.7 L648.5,240.7 L648.5,241.7 L648.6,242.7 L648.7,243.7 L648.7,244.7 L648.8,245.7 L648.8,246.7 L648.9,247.7 L648.9,248.7 L649.0,249.7 L649.0,250.7 L649.1,251.7 L649.1,252.7 L649.1,252.8 L649.7,252.8 L649.7,252.7 L649.7,251.7 L649.8,250.7 L649.8,249.7 L649.9,248.7 L649.9,247.7 L650.0,246.7 L650.0,245.7 L650.1,244.7 L650.1,243.7 L650.2,242.7 L650.3,241.7 L650.3,240.7 L650.4,239.7 L650.5,238.7 L650.6,237.7 L650.7,236.7 L650.7,235.7 L650.8,234.7 L650.9,233.7 L651.0,232.7 L651.1,231.7 L651.2,230.7 L651.3,229.7 L651.4,228.7 L651.6,227.7 L651.7,226.7 L651.8,225.7 L652.0,224.7 L652.2,223.7 L652.3,222.7 L652.6,221.7 L652.8,220.7 L653.1,219.7 L653.4,218.7 L653.6,217.7 L653.8,216.7 L654.0,215.7 L654.2,214.7 L654.4,213.7 L654.6,212.7 L654.8,211.7 L654.9,210.7 L655.1,209.7 L655.2,208.7 L655.4,207.7 L655.5,206.7 L655.5,205.7 L655.6,204.7 L655.6,203.7 L655.7,202.7 L655.7,201.7 L655.8,200.7 L655.8,199.7 L655.9,198.7 L655.9,197.7 L655.9,196.7 L655.9,195.7 L655.9,194.7 L655.8,193.7 L655.8,192.7 L655.7,191.7 L655.6,190.7 L655.5,189.7 L655.3,188.7 L655.2,187.7 L655.1,186.7 L655.0,185.7 L654.9,184.7 L654.8,183.7 L654.7,182.7 L654.5,181.7 L654.4,180.7 L654.3,179.7 L654.2,178.7 L654.0,177.7 L653.9,176.7 L653.7,175.7 L653.6,174.7 L653.4,173.7 L653.3,172.7 L653.1,171.7 L653.0,170.7 L652.8,169.7 L652.6,168.7 L652.5,167.7 L652.3,166.7 L652.2,165.7 L652.0,164.7 L651.9,163.7 L651.7,162.7 L651.6,161.7 L651.4,160.7 L651.3,159.7 L651.2,158.7 L651.0,157.7 L650.9,156.7 L650.8,155.7 L650.8,154.7 L650.7,153.7 L650.7,152.7 L650.6,151.7 L650.6,150.7 L650.5,149.7 L650.5,148.7 L650.4,147.7 L650.4,146.7 L650.4,145.7 L650.4,144.7 L650.4,143.7 L650.4,142.7 L650.4,141.7 L650.4,140.7 L650.4,139.7 L650.4,138.7 L650.4,137.7 L650.4,136.7 L650.4,135.7 L650.4,134.7 L650.4,133.7 L650.4,132.7 L650.4,131.7 L650.4,130.7 L650.4,129.7 L650.4,128.7 L650.4,127.7 L650.4,126.7 L650.4,125.7 L650.4,124.7 L650.4,123.7 L650.4,122.7 L650.4,121.7 L650.4,120.7 L650.4,119.7 L650.4,118.7 L650.4,117.7 L650.4,116.7 L650.4,115.7 L650.4,114.7 L650.4,113.7 L650.4,112.7 L650.4,111.7 L650.4,110.7 L650.4,109.7 L650.4,108.7 L650.4,107.7 L650.4,106.7 L650.4,105.7 L650.4,104.7 L650.4,103.7 L650.4,102.7 L650.4,101.7 L650.4,100.7 L650.4,99.7 L650.4,98.7 L650.4,97.7 L650.4,96.7 L650.4,95.7 L650.4,94.7 L650.4,93.7 L650.4,92.7 L650.4,91.7 L650.4,90.7 L650.4,89.7 L650.4,88.7 L650.4,87.7 L650.4,86.7 L650.4,85.7 L650.4,84.7 L650.4,83.7 L650.4,82.7 L650.4,81.7 L650.4,80.7 L650.4,79.7 L650.4,78.7 L650.4,77.7 L650.4,76.7 L650.4,75.7 L650.4,74.7 L650.4,73.7 L650.4,72.7 L650.4,71.7 L650.4,70.7 L650.4,69.7 L650.4,68.7 L650.4,67.7 L650.4,66.7 L650.4,65.7 L650.4,64.7 L650.4,63.7 L650.4,62.7 L650.4,61.7 L650.4,60.7 L650.4,59.7 L650.4,58.7 L650.4,57.7 L650.4,56.7 L650.4,55.7 L650.4,54.7 L650.3,53.7 L650.3,52.7 L650.3,51.7 L650.3,50.7 L650.3,49.7 L650.3,48.7 L650.3,47.7 L650.3,46.7 L650.3,45.7 L650.3,44.7 L650.3,43.7 L650.3,42.7 L650.2,41.7 L650.1,40.7 L650.0,39.7Z" fill="#8f8f00" stroke="#8f8f00" stroke-width="0.6" stroke-linejoin="round"/>
<line x1="649.4" x2="649.4" y1="159.5" y2="225.2" stroke="#000" stroke-width="1.5"/>
<rect x="646.9" y="181.6" width="5.0" height="25.5" fill="#000"/>
<circle cx="649.4" cy="196.9" r="4.3" fill="#fff"/>
<rect x="68.5" y="0.7" width="614.9" height="311.8" fill="none" stroke="#000" stroke-width="1.65"/>
<line x1="63.9" x2="68.5" y1="311.93" y2="311.93" stroke="#000" stroke-width="1.65"/>
<line x1="59.2" x2="68.5" y1="294.65" y2="294.65" stroke="#000" stroke-width="1.65"/>
<text x="53.5" y="300.4" font-size="19.3" text-anchor="end">-30</text>
<line x1="63.9" x2="68.5" y1="277.38" y2="277.38" stroke="#000" stroke-width="1.65"/>
<line x1="59.2" x2="68.5" y1="260.10" y2="260.10" stroke="#000" stroke-width="1.65"/>
<text x="53.5" y="265.8" font-size="19.3" text-anchor="end">-20</text>
<line x1="63.9" x2="68.5" y1="242.82" y2="242.82" stroke="#000" stroke-width="1.65"/>
<line x1="59.2" x2="68.5" y1="225.55" y2="225.55" stroke="#000" stroke-width="1.65"/>
<text x="53.5" y="231.3" font-size="19.3" text-anchor="end">-10</text>
<line x1="63.9" x2="68.5" y1="208.28" y2="208.28" stroke="#000" stroke-width="1.65"/>
<line x1="59.2" x2="68.5" y1="191.00" y2="191.00" stroke="#000" stroke-width="1.65"/>
<text x="53.5" y="196.7" font-size="19.3" text-anchor="end">0</text>
<line x1="63.9" x2="68.5" y1="173.72" y2="173.72" stroke="#000" stroke-width="1.65"/>
<line x1="59.2" x2="68.5" y1="156.45" y2="156.45" stroke="#000" stroke-width="1.65"/>
<text x="53.5" y="162.1" font-size="19.3" text-anchor="end">10</text>
<line x1="63.9" x2="68.5" y1="139.18" y2="139.18" stroke="#000" stroke-width="1.65"/>
<line x1="59.2" x2="68.5" y1="121.90" y2="121.90" stroke="#000" stroke-width="1.65"/>
<text x="53.5" y="127.6" font-size="19.3" text-anchor="end">20</text>
<line x1="63.9" x2="68.5" y1="104.62" y2="104.62" stroke="#000" stroke-width="1.65"/>
<line x1="59.2" x2="68.5" y1="87.35" y2="87.35" stroke="#000" stroke-width="1.65"/>
<text x="53.5" y="93.0" font-size="19.3" text-anchor="end">30</text>
<line x1="63.9" x2="68.5" y1="70.08" y2="70.08" stroke="#000" stroke-width="1.65"/>
<line x1="59.2" x2="68.5" y1="52.80" y2="52.80" stroke="#000" stroke-width="1.65"/>
<text x="53.5" y="58.4" font-size="19.3" text-anchor="end">40</text>
<line x1="63.9" x2="68.5" y1="35.53" y2="35.53" stroke="#000" stroke-width="1.65"/>
<line x1="59.2" x2="68.5" y1="18.25" y2="18.25" stroke="#000" stroke-width="1.65"/>
<text x="53.5" y="23.8" font-size="19.3" text-anchor="end">50</text>
<line x1="63.9" x2="68.5" y1="0.97" y2="0.97" stroke="#000" stroke-width="1.65"/>
<line x1="102.6" x2="102.6" y1="312.45" y2="321.75" stroke="#000" stroke-width="1.65"/>
<text transform="translate(103.0,342.1) scale(1.04,1)" font-size="18.7" text-anchor="middle">Train</text>
<line x1="170.9" x2="170.9" y1="312.45" y2="321.75" stroke="#000" stroke-width="1.65"/>
<text transform="translate(171.3,342.1) scale(1.04,1)" font-size="18.7" text-anchor="middle">Validation</text>
<line x1="239.3" x2="239.3" y1="312.45" y2="321.75" stroke="#000" stroke-width="1.65"/>
<text transform="translate(239.7,342.1) scale(1.04,1)" font-size="18.7" text-anchor="middle">Test</text>
<line x1="307.6" x2="307.6" y1="312.45" y2="321.75" stroke="#000" stroke-width="1.65"/>
<text transform="translate(308.0,342.1) scale(1.04,1)" font-size="18.7" text-anchor="middle">Train</text>
<line x1="376.0" x2="376.0" y1="312.45" y2="321.75" stroke="#000" stroke-width="1.65"/>
<text transform="translate(376.4,342.1) scale(1.04,1)" font-size="18.7" text-anchor="middle">Validation</text>
<line x1="444.4" x2="444.4" y1="312.45" y2="321.75" stroke="#000" stroke-width="1.65"/>
<text transform="translate(444.8,342.1) scale(1.04,1)" font-size="18.7" text-anchor="middle">Test</text>
<line x1="512.7" x2="512.7" y1="312.45" y2="321.75" stroke="#000" stroke-width="1.65"/>
<text transform="translate(513.1,342.1) scale(1.04,1)" font-size="18.7" text-anchor="middle">Train</text>
<line x1="581.0" x2="581.0" y1="312.45" y2="321.75" stroke="#000" stroke-width="1.65"/>
<text transform="translate(581.4,342.1) scale(1.04,1)" font-size="18.7" text-anchor="middle">Validation</text>
<line x1="649.4" x2="649.4" y1="312.45" y2="321.75" stroke="#000" stroke-width="1.65"/>
<text transform="translate(649.8,342.1) scale(1.04,1)" font-size="18.7" text-anchor="middle">Test</text>
<text transform="translate(171.3,303.6) scale(1.04,1)" font-size="18.7" text-anchor="middle">NB</text>
<line x1="158.1" x2="184.5" y1="306.5" y2="306.5" stroke="#000" stroke-width="1"/>
<text transform="translate(374.9,303.6) scale(1.04,1)" font-size="18.7" text-anchor="middle">NBMG</text>
<line x1="346.2" x2="403.5" y1="306.5" y2="306.5" stroke="#000" stroke-width="1"/>
<text transform="translate(580.6,303.6) scale(1.04,1)" font-size="18.7" text-anchor="middle">NBHH</text>
<line x1="553.5" x2="607.7" y1="306.5" y2="306.5" stroke="#000" stroke-width="1"/>
<text transform="translate(17.3,155.8) rotate(-90) scale(0.955,1)" font-size="24.4" text-anchor="middle">Error (%)</text>
<rect x="71.1" y="4.3" width="175.9" height="58.8" fill="#fff" stroke="#000" stroke-width="0.9"/>
<rect x="73.9" y="6.1" width="34.4" height="16.9" fill="#000"/>
<path d="M85.5,25.9H96.6M85.5,41.9H96.6M91.05,25.9V41.9" stroke="#000" stroke-width="1.3" fill="none"/>
<circle cx="91.1" cy="52.6" r="3" fill="#fff" stroke="#222" stroke-width="0.9"/>
<text transform="translate(112.6,20.1) scale(0.958,1)" font-size="16">25%~75%</text>
<text transform="translate(112.9,38.5) scale(0.958,1)" font-size="16">Range within 1.5IQR</text>
<text transform="translate(112.9,57.2) scale(0.958,1)" font-size="16">Median</text>
</svg></body></html>
